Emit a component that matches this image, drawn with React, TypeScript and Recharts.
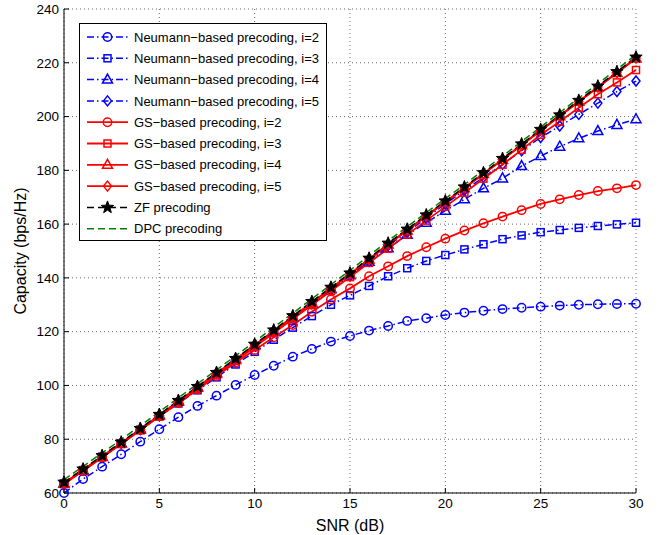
import { LineChart, Line, XAxis, YAxis, CartesianGrid, Legend } from 'recharts';

const snr = [0, 1, 2, 3, 4, 5, 6, 7, 8, 9, 10, 11, 12, 13, 14, 15, 16, 17, 18, 19, 20, 21, 22, 23, 24, 25, 26, 27, 28, 29, 30];

const neumann2 = [60, 65.2, 69.8, 74.4, 79.1, 83.7, 88.2, 92.4, 96.2, 100.2, 103.9, 107.3, 110.7, 113.6, 116.3, 118.4, 120.4, 122.1, 124, 125, 126.2, 127.1, 127.8, 128.4, 128.9, 129.3, 129.7, 130, 130.2, 130.3, 130.4];
const neumann3 = [63.5, 68.5, 73.5, 78.5, 83.5, 88.5, 93.3, 98.2, 103, 107.8, 112.5, 117, 121.5, 125.8, 130, 133.5, 137, 140.6, 143.6, 146.3, 148.5, 150.6, 152.5, 154.4, 155.8, 157, 157.8, 158.6, 159.3, 159.9, 160.5];
const neumann4 = [63.5, 68.5, 73.5, 78.5, 83.8, 89, 94.2, 99.4, 104.6, 109.8, 115, 120.2, 125.4, 130.6, 135.8, 141, 146, 151, 156, 160.5, 165, 169.2, 173.3, 177, 181.6, 185.3, 188.8, 191.9, 194.6, 196.9, 199];
const neumann5 = [63.5, 68.5, 73.5, 78.5, 83.6, 88.8, 94, 99.2, 104.4, 109.6, 114.8, 120, 125.2, 130.4, 135.6, 140.8, 146.1, 152, 157, 162.3, 167.5, 172.5, 177.4, 182.2, 187.3, 192.2, 196.5, 200.8, 205, 209.3, 213.2];
const gs2 = [63.5, 68.5, 73.5, 78.5, 83.5, 88.5, 93.5, 98.5, 103.5, 108.5, 113.2, 117.9, 122.5, 127.4, 132, 136.1, 140.6, 144.3, 148.1, 151.4, 154.6, 157.6, 160.3, 162.8, 165.2, 167.5, 169.2, 170.8, 172.3, 173.3, 174.5];
const gs3 = [63.3, 68.2, 73.2, 78.2, 83.3, 88.5, 93.6, 98.8, 104, 109.1, 114.3, 119.5, 124.7, 129.9, 135.1, 140.3, 145.6, 150.9, 156.1, 161.3, 166.5, 171.7, 176.9, 182.1, 187.6, 193.2, 198.2, 203.3, 208.3, 212.7, 217.3];
const gs4 = [63.5, 68.4, 73.4, 78.4, 83.5, 88.7, 93.9, 99.1, 104.3, 109.5, 114.8, 120.1, 125.4, 130.7, 136, 141.3, 146.8, 152.4, 157.6, 162.9, 168.1, 173.3, 178.6, 183.9, 189.3, 194.7, 200.1, 205.5, 210.8, 216.2, 221.6];
const gs5 = [63.7, 68.6, 73.6, 78.6, 83.7, 88.9, 94.1, 99.3, 104.5, 109.7, 115, 120.3, 125.6, 130.9, 136.2, 141.5, 147, 152.6, 157.8, 163.1, 168.3, 173.5, 178.8, 184.1, 189.5, 194.9, 200.3, 205.7, 211, 216.4, 221.8];
const zf = [64, 68.9, 73.9, 78.9, 84, 89.2, 94.4, 99.6, 104.8, 110, 115.3, 120.6, 125.9, 131.2, 136.5, 141.8, 147.3, 152.9, 158.1, 163.4, 168.6, 173.8, 179.1, 184.4, 189.8, 195.2, 200.6, 206, 211.3, 216.7, 222.1];
const dpc = [65, 69.9, 74.9, 79.9, 85, 90.2, 95.4, 100.6, 105.8, 111, 116.3, 121.6, 126.9, 132.2, 137.5, 142.8, 148.3, 153.8, 159, 164.3, 169.5, 174.7, 180, 185.3, 190.7, 196.1, 201.5, 206.9, 212.2, 217.6, 223];

const xTicks = [0, 5, 10, 15, 20, 25, 30];
const yTicks = [60, 80, 100, 120, 140, 160, 180, 200, 220, 240];

type Shape = 'circle' | 'square' | 'triangle' | 'diamond' | 'star' | 'none';

const BLUE = '#0000ff';
const RED = '#ff0000';
const NEU_DASH = '7 3 1.5 3';

const series = [
  { key: 'n2', name: 'Neumann\u2212based precoding, i=2', values: neumann2, color: BLUE, dash: NEU_DASH, width: 1.5, shape: 'circle' as Shape },
  { key: 'n3', name: 'Neumann\u2212based precoding, i=3', values: neumann3, color: BLUE, dash: NEU_DASH, width: 1.5, shape: 'square' as Shape },
  { key: 'n4', name: 'Neumann\u2212based precoding, i=4', values: neumann4, color: BLUE, dash: NEU_DASH, width: 1.5, shape: 'triangle' as Shape },
  { key: 'n5', name: 'Neumann\u2212based precoding, i=5', values: neumann5, color: BLUE, dash: NEU_DASH, width: 1.5, shape: 'diamond' as Shape },
  { key: 'g2', name: 'GS\u2212based precoding, i=2', values: gs2, color: RED, dash: undefined, width: 1.8, shape: 'circle' as Shape },
  { key: 'g3', name: 'GS\u2212based precoding, i=3', values: gs3, color: RED, dash: undefined, width: 1.8, shape: 'square' as Shape },
  { key: 'g4', name: 'GS\u2212based precoding, i=4', values: gs4, color: RED, dash: undefined, width: 1.8, shape: 'triangle' as Shape },
  { key: 'g5', name: 'GS\u2212based precoding, i=5', values: gs5, color: RED, dash: undefined, width: 1.8, shape: 'diamond' as Shape },
  { key: 'zf', name: 'ZF precoding', values: zf, color: '#000000', dash: '7 4', width: 1.5, shape: 'star' as Shape },
  { key: 'dpc', name: 'DPC precoding', values: dpc, color: '#008000', dash: '7 4', width: 1.5, shape: 'none' as Shape },
];

const data = snr.map((x, i) => {
  const row: Record<string, number> = { snr: x };
  series.forEach((s) => { row[s.key] = s.values[i]; });
  return row;
});

const starPoints = (cx: number, cy: number, ro: number, ri: number) => {
  const pts: string[] = [];
  for (let k = 0; k < 10; k++) {
    const r = k % 2 === 0 ? ro : ri;
    const a = -Math.PI / 2 + (k * Math.PI) / 5;
    pts.push(`${cx + r * Math.cos(a)},${cy + r * Math.sin(a)}`);
  }
  return pts.join(' ');
};

const Marker = ({ cx, cy, shape, color }: { cx: number; cy: number; shape: Shape; color: string }) => {
  const common = { fill: 'none', stroke: color, strokeWidth: 1.5 };
  switch (shape) {
    case 'circle':
      return <circle cx={cx} cy={cy} r={4.2} {...common} />;
    case 'square':
      return <rect x={cx - 3.5} y={cy - 3.5} width={7} height={7} {...common} />;
    case 'triangle':
      return <polygon points={`${cx},${cy - 5.5} ${cx + 5},${cy + 3.5} ${cx - 5},${cy + 3.5}`} {...common} />;
    case 'diamond':
      return <polygon points={`${cx},${cy - 5} ${cx + 4},${cy} ${cx},${cy + 5} ${cx - 4},${cy}`} {...common} />;
    case 'star':
      return <polygon points={starPoints(cx, cy, 6.5, 2.7)} fill={color} stroke={color} strokeWidth={1} />;
    default:
      return <g />;
  }
};

const LegendBox = () => (
  <svg width={248} height={218} style={{ display: 'block' }}>
    <rect x={0.5} y={0.5} width={247} height={217} fill="#fff" stroke="#000" strokeWidth={1} />
    {series.map((s, i) => {
      const y = 14 + i * 21.3;
      return (
        <g key={s.key}>
          <line x1={8} x2={49} y1={y} y2={y} stroke={s.color} strokeWidth={s.width} strokeDasharray={s.dash} />
          <Marker cx={28.5} cy={y} shape={s.shape} color={s.color} />
          <text x={55} y={y + 4.6} fontSize={13} fill="#000">{s.name}</text>
        </g>
      );
    })}
  </svg>
);

const tickStyle = { fontSize: 13.5, fill: '#000' };

export default function App() {
  return (
    <div style={{ position: 'absolute', left: 0, top: 0, background: '#fff', fontFamily: '"Liberation Sans", Arial, sans-serif' }}>
      <LineChart width={662} height={535} data={data} margin={{ top: 9, right: 26, bottom: 0, left: 0 }}>
        <CartesianGrid stroke="#444" strokeDasharray="1 3" strokeWidth={0.8} />
        <XAxis
          dataKey="snr"
          type="number"
          domain={[0, 30]}
          ticks={xTicks}
          height={42}
          stroke="#000"
          tick={tickStyle}
          tickSize={-5}
          tickMargin={10}
          label={{ value: 'SNR (dB)', position: 'insideBottom', offset: 4, fontSize: 16, fill: '#000' }}
        />
        <XAxis xAxisId="top" orientation="top" dataKey="snr" type="number" domain={[0, 30]} ticks={xTicks} height={0} stroke="#000" tick={false} tickSize={-5} />
        <YAxis
          type="number"
          domain={[60, 240]}
          ticks={yTicks}
          width={64}
          stroke="#000"
          tick={tickStyle}
          tickSize={-5}
          tickMargin={10}
          label={{ value: 'Capacity (bps/Hz)', angle: -90, position: 'insideLeft', offset: 20, fontSize: 16, fill: '#000', style: { textAnchor: 'middle' } }}
        />
        <YAxis yAxisId="right" orientation="right" type="number" domain={[60, 240]} ticks={yTicks} width={0} stroke="#000" tick={false} tickSize={-5} />
        {series.map((s) => (
          <Line
            key={s.key}
            dataKey={s.key}
            name={s.name}
            stroke={s.color}
            strokeWidth={s.width}
            strokeDasharray={s.dash}
            isAnimationActive={false}
            dot={(p: any) => <Marker key={`${s.key}-${p.index}`} cx={p.cx} cy={p.cy} shape={s.shape} color={s.color} />}
            activeDot={false}
          />
        ))}
        <Legend
          layout="vertical"
          align="center"
          verticalAlign="middle"
          content={() => <LegendBox />}
          wrapperStyle={{ left: 79, top: 23, width: 'auto', height: 'auto' }}
        />
      </LineChart>
    </div>
  );
}
